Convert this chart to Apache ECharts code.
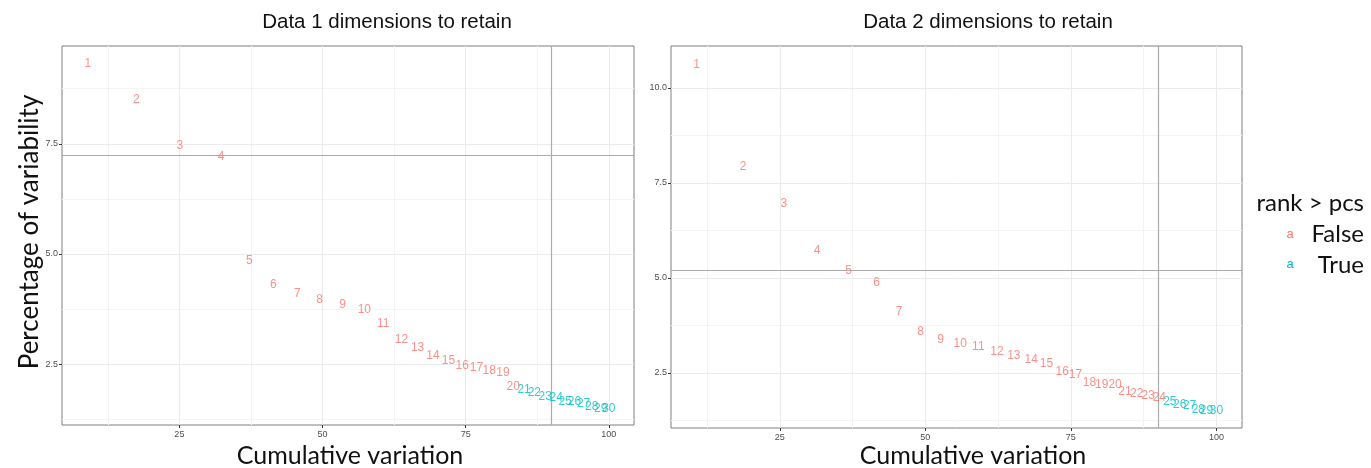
<!DOCTYPE html>
<html><head><meta charset="utf-8">
<script src="https://cdn.jsdelivr.net/npm/echarts@6/dist/echarts.min.js"></script>
<style>html,body{margin:0;padding:0;background:#fff}#c{width:1371px;height:468px}</style>
</head><body><div id="c"></div>
<script>
// ---- data ----
const ranks = [1,2,3,4,5,6,7,8,9,10,11,12,13,14,15,16,17,18,19,20,21,22,23,24,25,26,27,28,29,30];
const d1Cum = [9.0,17.5,25.1,32.3,37.2,41.4,45.6,49.5,53.5,57.3,60.6,63.8,66.6,69.3,72.0,74.4,76.9,79.1,81.5,83.3,85.2,87.0,88.9,90.8,92.4,94.0,95.6,97.0,98.6,100];
const d1Pct = [9.32,8.50,7.45,7.21,4.84,4.30,4.11,3.97,3.86,3.74,3.42,3.05,2.88,2.70,2.57,2.47,2.42,2.36,2.30,1.98,1.91,1.85,1.76,1.73,1.66,1.64,1.61,1.53,1.49,1.49];
const d1Pcs = 20;
const d2Cum = [10.7,18.7,25.7,31.4,36.8,41.6,45.5,49.2,52.6,56.0,59.1,62.3,65.2,68.2,70.8,73.5,75.8,78.2,80.3,82.6,84.3,86.3,88.3,90.2,92.0,93.7,95.4,96.9,98.3,100];
const d2Pct = [10.62,7.93,6.96,5.71,5.20,4.86,4.12,3.58,3.38,3.26,3.20,3.05,2.96,2.85,2.73,2.53,2.44,2.24,2.19,2.19,2.00,1.96,1.91,1.84,1.74,1.67,1.65,1.52,1.50,1.50];
const d2Pcs = 24;
const xBreaks = [25,50,75,100];
const xMinor = [12.5,37.5,62.5,87.5];
const d1YBreaks = [2.5,5.0,7.5];
const d2YBreaks = [2.5,5.0,7.5,10.0];
const yMinor = [1.25,3.75,6.25,8.75];
const d1HLine = 7.235;
const d2HLine = 5.2;
const vLine = 90;
const titles = ['Data 1 dimensions to retain','Data 2 dimensions to retain'];
const legendTitle = 'rank > pcs';
const legendLabels = ['False','True'];

const RED = '#F8766D', CYAN = '#00BFC4';
const chart = echarts.init(document.getElementById('c'), null, {renderer:'canvas'});

function axisX(i, min, max){
  return {gridIndex:i, type:'value', min:min, max:max,
    axisLine:{show:false}, splitLine:{show:false},
    axisTick:{show:true, customValues:xBreaks, length:3, lineStyle:{color:'#333', width:1}},
    axisLabel:{customValues:xBreaks, fontSize:9, color:'#4D4D4D', margin:5, fontFamily:'Liberation Sans'}};
}
function axisY(i, min, max, breaks){
  return {gridIndex:i, type:'value', min:min, max:max,
    axisLine:{show:false}, splitLine:{show:false},
    axisTick:{show:true, customValues:breaks, length:3, lineStyle:{color:'#333', width:1}},
    axisLabel:{customValues:breaks, fontSize:9, color:'#4D4D4D', margin:4, fontFamily:'Liberation Sans',
      formatter:v=>Number(v).toFixed(1)}};
}
function gridSeries(i, yBreaks, hline){
  const base = {type:'line', data:[], xAxisIndex:i, yAxisIndex:i, silent:true, animation:false};
  const ml = (data, color, w, z) => Object.assign({}, base, {z:z, markLine:{silent:true, animation:false, symbol:['none','none'],
    label:{show:false}, emphasis:{disabled:true}, lineStyle:{color:color, width:w, type:'solid'}, data:data}});
  return [
    ml([...xMinor.map(v=>({xAxis:v})), ...yMinor.map(v=>({yAxis:v}))], '#F4F4F4', 1, 1),
    ml([...xBreaks.map(v=>({xAxis:v})), ...yBreaks.map(v=>({yAxis:v}))], '#EBEBEB', 1, 2),
    ml([{xAxis:vLine},{yAxis:hline}], '#ABABAB', 1.2, 3)
  ];
}
function textSeries(i, cum, pct, pcs, isTrue){
  const data = [];
  ranks.forEach((r,k)=>{ if ((r>pcs)===isTrue) data.push([cum[k], pct[k], r]); });
  return {type:'scatter', xAxisIndex:i, yAxisIndex:i, data:data, symbolSize:1, z:5, silent:true, animation:false,
    itemStyle:{color:'rgba(0,0,0,0)'},
    label:{show:true, position:'inside', formatter:p=>String(p.value[2]), color:isTrue?CYAN:RED,
      fontSize:12, fontFamily:'Liberation Sans'},
    labelLayout:{hideOverlap:false}};
}

const option = {
  backgroundColor:'#fff',
  animation:false,
  grid:[
    {left:62, top:46, width:572, height:379, show:true, borderColor:'#7F7F7F', borderWidth:1, backgroundColor:'transparent'},
    {left:671, top:46, width:571, height:382, show:true, borderColor:'#7F7F7F', borderWidth:1, backgroundColor:'transparent'}
  ],
  xAxis:[axisX(0,4.5,104.4), axisX(1,6.3,104.4)],
  yAxis:[axisY(0,1.12,9.72,d1YBreaks), axisY(1,1.05,11.1,d2YBreaks)],
  series:[
    ...gridSeries(0, d1YBreaks, d1HLine),
    ...gridSeries(1, d2YBreaks, d2HLine),
    textSeries(0, d1Cum, d1Pct, d1Pcs, false),
    textSeries(0, d1Cum, d1Pct, d1Pcs, true),
    textSeries(1, d2Cum, d2Pct, d2Pcs, false),
    textSeries(1, d2Cum, d2Pct, d2Pcs, true)
  ],
  graphic:[
    {type:'text', x:387, y:22, style:{text:titles[0], textAlign:'center', textVerticalAlign:'middle', font:'20.5px "Liberation Sans"', fill:'#111'}},
    {type:'text', x:988, y:22, style:{text:titles[1], textAlign:'center', textVerticalAlign:'middle', font:'20.5px "Liberation Sans"', fill:'#111'}},
    {type:'text', x:350, y:456, style:{text:'Cumulative variation', textAlign:'center', textVerticalAlign:'middle', font:'25px Lato', fill:'#111'}},
    {type:'text', x:973, y:456, style:{text:'Cumulative variation', textAlign:'center', textVerticalAlign:'middle', font:'25px Lato', fill:'#111'}},
    {type:'text', x:30, y:232, rotation:Math.PI/2, style:{text:'Percentage of variability', textAlign:'center', textVerticalAlign:'middle', font:'26px Lato', fill:'#111'}},
    {type:'text', x:1364, y:203, style:{text:legendTitle, textAlign:'right', textVerticalAlign:'middle', font:'24px Lato', fill:'#111'}},
    {type:'text', x:1290, y:234, style:{text:'a', textAlign:'center', textVerticalAlign:'middle', font:'13px "Liberation Sans"', fill:RED}},
    {type:'text', x:1364, y:234, style:{text:legendLabels[0], textAlign:'right', textVerticalAlign:'middle', font:'24px Lato', fill:'#111'}},
    {type:'text', x:1290, y:264, style:{text:'a', textAlign:'center', textVerticalAlign:'middle', font:'13px "Liberation Sans"', fill:CYAN}},
    {type:'text', x:1364, y:265, style:{text:legendLabels[1], textAlign:'right', textVerticalAlign:'middle', font:'24px Lato', fill:'#111'}}
  ]
};
chart.setOption(option);
</script></body></html>
